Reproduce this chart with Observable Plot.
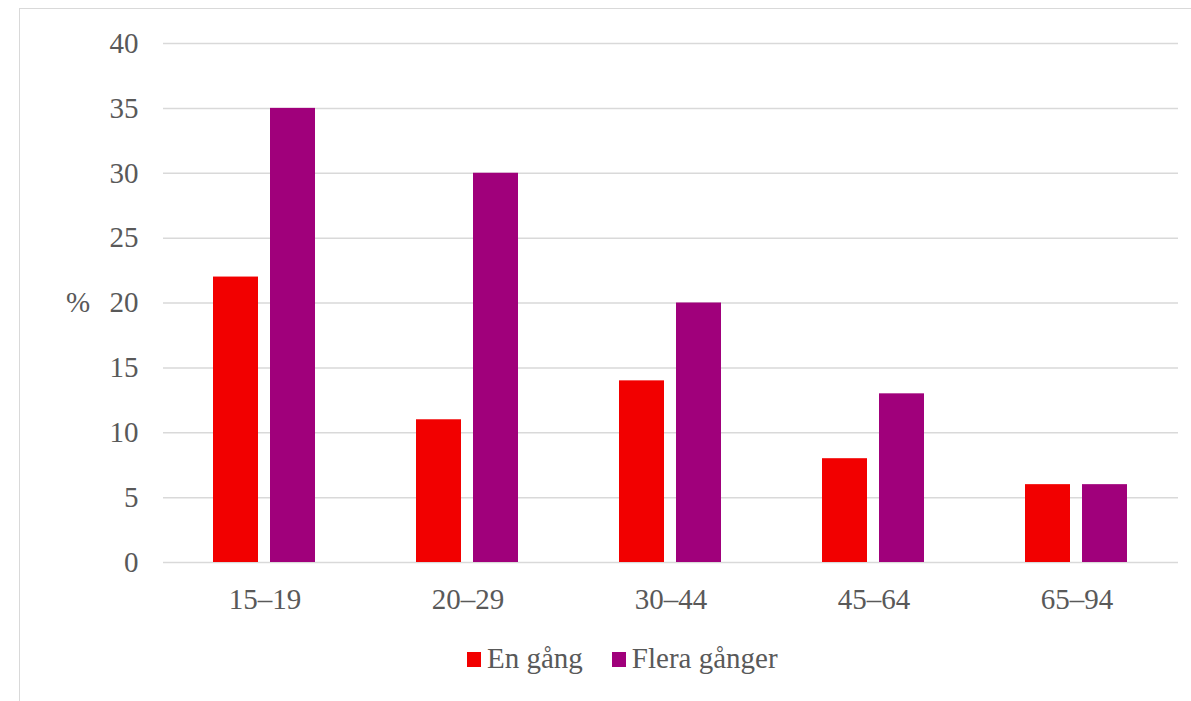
<!DOCTYPE html>
<html>
<head>
<meta charset="utf-8">
<script src="https://cdn.jsdelivr.net/npm/d3@7"></script>
<script src="https://cdn.jsdelivr.net/npm/@observablehq/plot@0.6"></script>
<style>
  html, body { margin: 0; padding: 0; background: #fff; width: 1191px; height: 701px; overflow: hidden; }
  body { position: relative; font-family: "Liberation Serif", "Times New Roman", serif; color: #595959; }
  #frame { position: absolute; left: 19px; top: 8px; width: 1300px; height: 800px; border-top: 1.5px solid #d9d9d9; border-left: 1.5px solid #d9d9d9; }
  #chart { position: absolute; left: 0; top: 0; }
  #ylabel { position: absolute; left: 66px; top: 286px; font-size: 29px; line-height: 32px; }
  #legend { position: absolute; left: 467px; top: 642px; display: flex; align-items: center; font-size: 29px; line-height: 32px; }
  .item { display: flex; align-items: center; margin-right: 29px; }
  .sw { width: 14px; height: 15px; margin-right: 6px; margin-top: 2px; }
</style>
</head>
<body>
<div id="frame"></div>
<div id="chart"></div>
<div id="ylabel">%</div>
<div id="legend"></div>
<script>
const groups = ["15–19", "20–29", "30–44", "45–64", "65–94"];
const series = ["En gång", "Flera gånger"];
const enGang = [22, 11, 14, 8, 6];
const fleraGanger = [35, 30, 20, 13, 6];
const colors = ["#f20000", "#a0007b"];
const yTicks = [0, 5, 10, 15, 20, 25, 30, 35, 40];

const rows = [];
groups.forEach((g, i) => {
  rows.push({group: g, series: series[0], value: enGang[i]});
  rows.push({group: g, series: series[1], value: fleraGanger[i]});
});

const plot = Plot.plot({
  width: 1191,
  height: 625,
  marginTop: 43,
  marginBottom: 63,
  marginLeft: 161,
  marginRight: 12,
  style: {fontFamily: "'Liberation Serif', 'Times New Roman', serif", fontSize: "29px", color: "#595959", background: "transparent"},
  fx: {domain: groups, padding: 0, label: null, tickSize: 0, tickPadding: 26},
  x: {domain: series, paddingInner: 0.207, paddingOuter: 0.859, axis: null},
  y: {domain: [0, 40], ticks: yTicks, tickSize: 0, tickPadding: 25, label: null},
  color: {domain: series, range: colors},
  marks: [
    Plot.ruleY(yTicks, {stroke: "#d9d9d9", strokeWidth: 1.5}),
    Plot.barY(rows, {fx: "group", x: "series", y: "value", fill: "series"})
  ]
});
document.getElementById("chart").appendChild(plot);

const legend = document.getElementById("legend");
series.forEach((s, i) => {
  const item = document.createElement("div");
  item.className = "item";
  const sw = document.createElement("span");
  sw.className = "sw";
  sw.style.background = colors[i];
  const t = document.createElement("span");
  t.textContent = s;
  item.appendChild(sw);
  item.appendChild(t);
  legend.appendChild(item);
});
</script>
</body>
</html>
